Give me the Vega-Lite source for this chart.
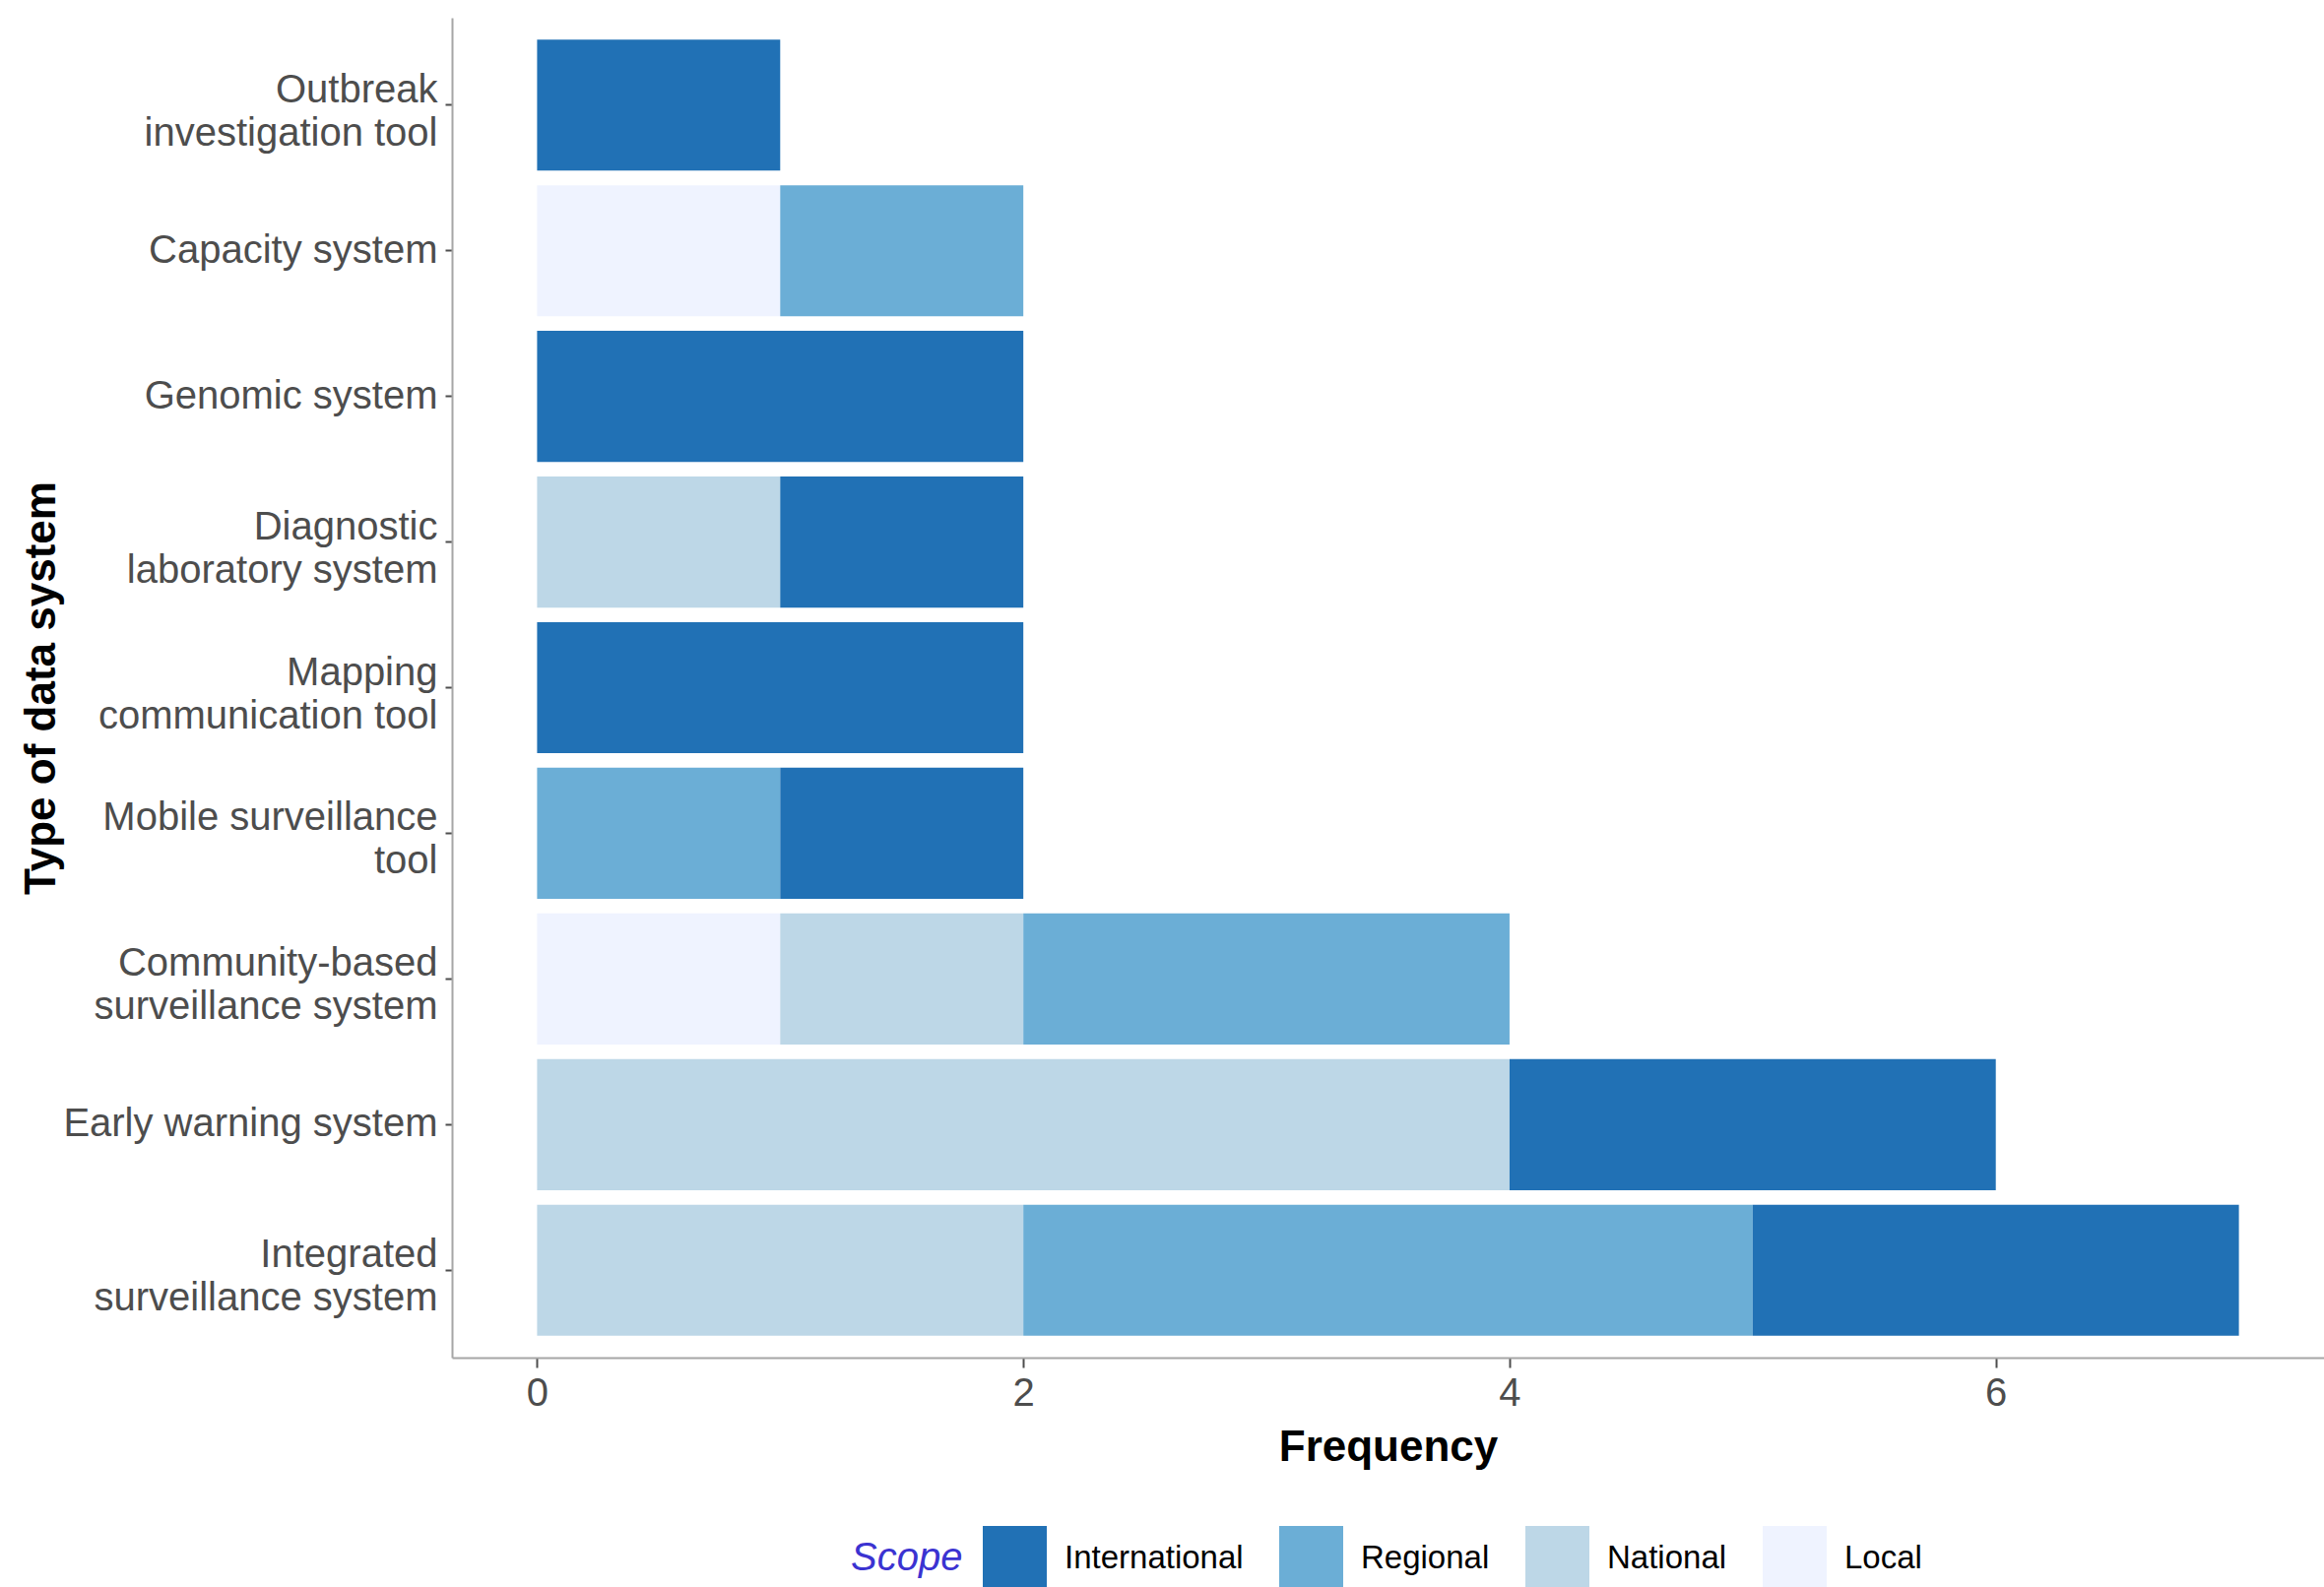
{
  "$schema": "https://vega.github.io/schema/vega-lite/v6.json",
  "autosize": "none",
  "width": 1901,
  "height": 1361,
  "padding": {"left": 459, "top": 18, "right": 0, "bottom": 233},
  "background": "white",
  "config": {"view": {"stroke": null}, "font": "Liberation Sans"},
  "data": {"values": [
    {"system": "Outbreak investigation tool", "scope": "International", "count": 1},
    {"system": "Capacity system", "scope": "Local", "count": 1},
    {"system": "Capacity system", "scope": "Regional", "count": 1},
    {"system": "Genomic system", "scope": "International", "count": 2},
    {"system": "Diagnostic laboratory system", "scope": "National", "count": 1},
    {"system": "Diagnostic laboratory system", "scope": "International", "count": 1},
    {"system": "Mapping communication tool", "scope": "International", "count": 2},
    {"system": "Mobile surveillance tool", "scope": "Regional", "count": 1},
    {"system": "Mobile surveillance tool", "scope": "International", "count": 1},
    {"system": "Community-based surveillance system", "scope": "Local", "count": 1},
    {"system": "Community-based surveillance system", "scope": "National", "count": 1},
    {"system": "Community-based surveillance system", "scope": "Regional", "count": 2},
    {"system": "Early warning system", "scope": "National", "count": 4},
    {"system": "Early warning system", "scope": "International", "count": 2},
    {"system": "Integrated surveillance system", "scope": "National", "count": 2},
    {"system": "Integrated surveillance system", "scope": "Regional", "count": 3},
    {"system": "Integrated surveillance system", "scope": "International", "count": 2}
  ]},
  "transform": [
    {"calculate": "indexof(['Local', 'National', 'Regional', 'International'], datum.scope)", "as": "scope_rank"}
  ],
  "mark": {"type": "bar"},
  "encoding": {
    "y": {
      "field": "system",
      "type": "nominal",
      "sort": ["Outbreak investigation tool", "Capacity system", "Genomic system", "Diagnostic laboratory system", "Mapping communication tool", "Mobile surveillance tool", "Community-based surveillance system", "Early warning system", "Integrated surveillance system"],
      "scale": {"paddingInner": 0.1, "paddingOuter": 0.15},
      "axis": {
        "title": "Type of data system",
        "titleFont": "Liberation Sans",
        "titleFontSize": 44,
        "titleFontWeight": "bold",
        "titleColor": "black",
        "titleX": -417,
        "titleBaseline": "middle",
        "labelFont": "Liberation Sans",
        "labelFontSize": 40,
        "labelColor": "#4d4d4d",
        "labelLineHeight": 44,
        "labelPadding": 8,
        "labelLimit": 1000,
        "labelOffset": {"condition": {"test": "indexof(['Outbreak investigation tool', 'Diagnostic laboratory system', 'Mapping communication tool', 'Mobile surveillance tool', 'Community-based surveillance system', 'Integrated surveillance system'], datum.value) >= 0", "value": -15}, "value": 0},
        "tickSize": 7,
        "tickColor": "#4d4d4d",
        "tickWidth": 2,
        "domainColor": "#a6a6a6",
        "domainWidth": 2,
        "grid": false,
        "labelExpr": "datum.label == 'Outbreak investigation tool' ? ['Outbreak', 'investigation tool'] : datum.label == 'Diagnostic laboratory system' ? ['Diagnostic', 'laboratory system'] : datum.label == 'Mapping communication tool' ? ['Mapping', 'communication tool'] : datum.label == 'Mobile surveillance tool' ? ['Mobile surveillance', 'tool'] : datum.label == 'Community-based surveillance system' ? ['Community-based', 'surveillance system'] : datum.label == 'Integrated surveillance system' ? ['Integrated', 'surveillance system'] : datum.label"
      }
    },
    "x": {
      "field": "count",
      "type": "quantitative",
      "stack": "zero",
      "scale": {"domain": [-0.35, 7.35], "nice": false, "zero": false},
      "axis": {
        "title": "Frequency",
        "titleFont": "Liberation Sans",
        "titleFontSize": 44,
        "titleFontWeight": "bold",
        "titleColor": "black",
        "titleY": 91,
        "titleBaseline": "middle",
        "values": [0, 2, 4, 6],
        "labelFont": "Liberation Sans",
        "labelFontSize": 40,
        "labelColor": "#4d4d4d",
        "labelPadding": 6,
        "tickSize": 10,
        "tickColor": "#4d4d4d",
        "tickWidth": 2,
        "domainColor": "#a6a6a6",
        "domainWidth": 2,
        "grid": false
      }
    },
    "order": {"field": "scope_rank", "type": "quantitative", "sort": "ascending"},
    "color": {
      "field": "scope",
      "type": "nominal",
      "scale": {"domain": ["International", "Regional", "National", "Local"], "range": ["#2171b5", "#6baed6", "#bdd7e7", "#eff3ff"]},
      "legend": {
        "title": "Scope",
        "orient": "none",
        "direction": "horizontal",
        "legendX": 405,
        "legendY": 1532,
        "titleOrient": "left",
        "titleFont": "Liberation Sans",
        "titleFontSize": 40,
        "titleFontStyle": "italic",
        "titleFontWeight": "normal",
        "titleColor": "#3b33d1",
        "titlePadding": 20,
        "symbolType": "square",
        "symbolSize": 4225,
        "symbolStrokeWidth": 0,
        "symbolOpacity": 1,
        "labelFont": "Liberation Sans",
        "labelFontSize": 33,
        "labelColor": "black",
        "labelOffset": 18,
        "columnPadding": 36,
        "labelLimit": 500
      }
    }
  }
}
